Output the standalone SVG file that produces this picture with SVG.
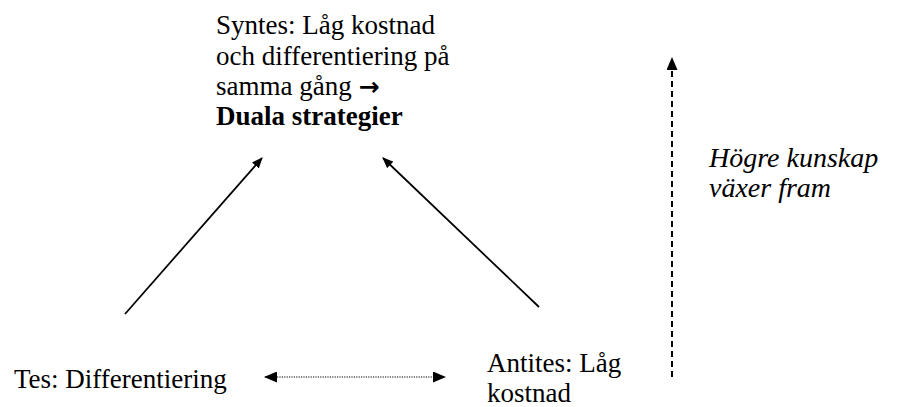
<svg xmlns="http://www.w3.org/2000/svg" width="898" height="407" viewBox="0 0 898 407">
  <style>
    text { font-family: "Liberation Serif", "Times New Roman", serif; font-size: 27px; fill: #000; }
    .b { font-weight: bold; }
    .i { font-style: italic; font-size: 28px; }
    .sym { font-family: "DejaVu Sans", sans-serif; font-weight: bold; font-size: 25px; }
    .ln { stroke: #000; fill: none; }
  </style>
  <defs>
    <!-- large filled head for the dotted and dashed arrows -->
    <marker id="head" markerUnits="userSpaceOnUse" markerWidth="13" markerHeight="11" refX="12" refY="5.5" orient="auto-start-reverse">
      <path d="M0,0 L13,5.5 L0,11 Z" fill="#000"/>
    </marker>
    <!-- small filled head for the solid diagonal arrows -->
    <marker id="headS" markerUnits="userSpaceOnUse" markerWidth="11" markerHeight="9" refX="10" refY="4.5" orient="auto">
      <path d="M0,0 L11,4.5 L0,9 Z" fill="#000"/>
    </marker>
  </defs>
  <rect width="898" height="407" fill="#fff"/>

  <g id="syntes">
    <text x="216" y="34">Syntes: Låg kostnad</text>
    <text x="216" y="65">och differentiering på</text>
    <text x="216" y="95">samma gång <tspan class="sym">→</tspan></text>
    <text class="b" x="216" y="125">Duala strategier</text>
  </g>

  <g id="tes">
    <text x="14" y="388">Tes: Differentiering</text>
  </g>

  <g id="antites">
    <text x="487" y="372">Antites: Låg</text>
    <text x="487" y="402">kostnad</text>
  </g>

  <g id="kunskap">
    <text class="i" x="709" y="167">Högre kunskap</text>
    <text class="i" x="709" y="197">växer fram</text>
  </g>

  <g id="connectors">
    <line class="ln" x1="125" y1="314" x2="262" y2="158" stroke-width="1.75" marker-end="url(#headS)"/>
    <line class="ln" x1="539" y1="307" x2="383" y2="158" stroke-width="1.75" marker-end="url(#headS)"/>
    <line class="ln" x1="265" y1="377" x2="445" y2="377" stroke-width="1" stroke-dasharray="1.2,1.2" marker-start="url(#head)" marker-end="url(#head)"/>
    <line class="ln" x1="672" y1="377" x2="672" y2="58" stroke-width="2" stroke-dasharray="6,4" marker-end="url(#head)"/>
  </g>
</svg>
